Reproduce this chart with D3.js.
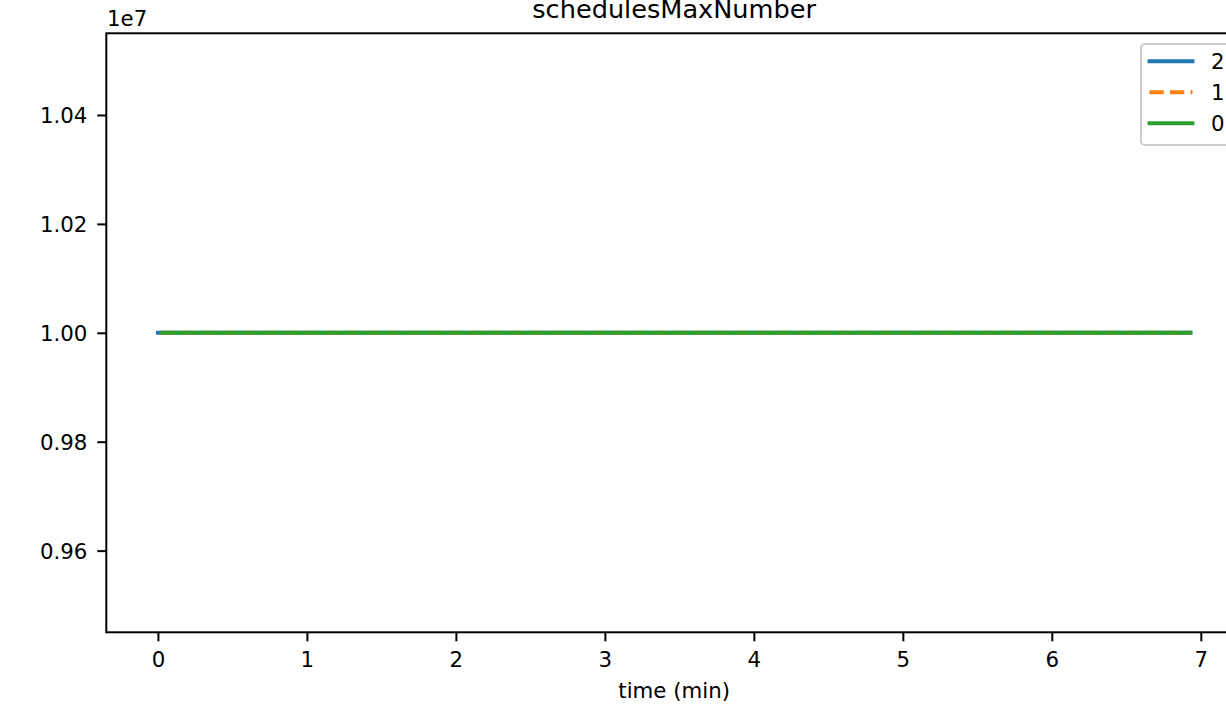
<!DOCTYPE html>
<html>
<head>
<meta charset="utf-8">
<script src="https://cdn.jsdelivr.net/npm/d3@7"></script>
<style>
  html, body { margin: 0; padding: 0; background: #fff; }
  svg { display: block; font-family: "DejaVu Sans", sans-serif; }
</style>
</head>
<body>
<svg id="chart" width="1226" height="704"></svg>
<script>
// ---- data ----
const title = "schedulesMaxNumber";
const xLabel = "time (min)";
const seriesNames = ["2", "1", "0"];
const seriesColors = ["#1f77b4", "#ff7f0e", "#2ca02c"];
const seriesDashed = [false, true, false];
const time2 = [0.00, 1.00, 2.00, 3.00, 4.00, 5.00, 6.00, 6.93];
const value2 = [10000000, 10000000, 10000000, 10000000, 10000000, 10000000, 10000000, 10000000];
const time1 = [0.02, 1.00, 2.00, 3.00, 4.00, 5.00, 6.00, 6.93];
const value1 = [10000000, 10000000, 10000000, 10000000, 10000000, 10000000, 10000000, 10000000];
const time0 = [0.03, 1.00, 2.00, 3.00, 4.00, 5.00, 6.00, 6.93];
const value0 = [10000000, 10000000, 10000000, 10000000, 10000000, 10000000, 10000000, 10000000];
const xTicks = [0, 1, 2, 3, 4, 5, 6, 7];
const yTicks = [9600000, 9800000, 10000000, 10200000, 10400000];
const yOffsetLabel = "1e7";
const yScaleFactor = 1e7;

const seriesTimes = [time2, time1, time0];
const seriesValues = [value2, value1, value0];

// ---- layout ----
const svg = d3.select("#chart");
const mLeft = 106.3, mRight = 1242, mTop = 33.3, mBottom = 632.3;
const fs = 21.3, titleFs = 25.6;

const allT = seriesTimes.flat();
const tMin = d3.min(allT), tMax = d3.max(allT);
const tPad = (tMax - tMin) * 0.05;
const x = d3.scaleLinear().domain([tMin - tPad, tMax + tPad]).range([mLeft, mRight]);
const y = d3.scaleLinear().domain([9450000, 10550000]).range([mBottom, mTop]);

// lines
const line = d3.line().x((d) => x(d[0])).y((d) => y(d[1]));
const gLines = svg.append("g");
seriesNames.forEach((name, i) => {
  const pts = seriesTimes[i].map((t, j) => [t, seriesValues[i][j]]);
  gLines.append("path")
    .attr("d", line(pts))
    .attr("fill", "none")
    .attr("stroke", seriesColors[i])
    .attr("stroke-width", 3.9)
    .attr("stroke-linecap", seriesDashed[i] ? "butt" : "square")
    .attr("stroke-dasharray", seriesDashed[i] ? "14.3,6.2" : null);
});

// axes
const xAxis = d3.axisBottom(x).tickValues(xTicks).tickFormat(d3.format("d")).tickSize(9).tickPadding(7);
const yAxis = d3.axisLeft(y).tickValues(yTicks).tickFormat((d) => (d / yScaleFactor).toFixed(2)).tickSize(9).tickPadding(10);

const gx = svg.append("g").attr("transform", `translate(0,${mBottom})`).call(xAxis);
const gy = svg.append("g").attr("transform", `translate(${mLeft},0)`).call(yAxis);
[gx, gy].forEach((g) => {
  g.select(".domain").remove();
  g.selectAll(".tick line").attr("stroke", "#000").attr("stroke-width", 2);
  g.selectAll(".tick text").attr("fill", "#000").attr("font-size", fs).attr("font-family", "DejaVu Sans");
});
gx.selectAll(".tick text").attr("dy", null).attr("y", 35);
gy.selectAll(".tick text").attr("dy", "0.36em");

// spines
svg.append("rect")
  .attr("x", mLeft).attr("y", mTop)
  .attr("width", mRight - mLeft).attr("height", mBottom - mTop)
  .attr("fill", "none").attr("stroke", "#000").attr("stroke-width", 2);

// offset text
svg.append("text").attr("x", 107).attr("y", 26)
  .attr("font-size", fs).attr("fill", "#000").text(yOffsetLabel);

// title
svg.append("text").attr("x", (mLeft + mRight) / 2).attr("y", 17.7)
  .attr("text-anchor", "middle").attr("font-size", titleFs).attr("fill", "#000").text(title);

// x label
svg.append("text").attr("x", (mLeft + mRight) / 2).attr("y", 698)
  .attr("text-anchor", "middle").attr("font-size", fs).attr("fill", "#000").text(xLabel);

// legend
const legX = 1141, legY = 44, legW = 110, legH = 101;
svg.append("rect")
  .attr("x", legX).attr("y", legY).attr("width", legW).attr("height", legH)
  .attr("rx", 4).attr("ry", 4)
  .attr("fill", "rgba(255,255,255,0.8)")
  .attr("stroke", "#cccccc").attr("stroke-width", 2);
seriesNames.forEach((name, i) => {
  const cy = 61.3 + i * 31;
  svg.append("line")
    .attr("x1", 1149.5).attr("x2", 1192.5)
    .attr("y1", cy).attr("y2", cy)
    .attr("stroke", seriesColors[i]).attr("stroke-width", 3.9)
    .attr("stroke-linecap", seriesDashed[i] ? "butt" : "square")
    .attr("stroke-dasharray", seriesDashed[i] ? "14.3,6.2" : null);
  svg.append("text").attr("x", 1211).attr("y", cy).attr("dy", "0.36em")
    .attr("font-size", fs).attr("fill", "#000").text(name);
});
</script>
</body>
</html>
